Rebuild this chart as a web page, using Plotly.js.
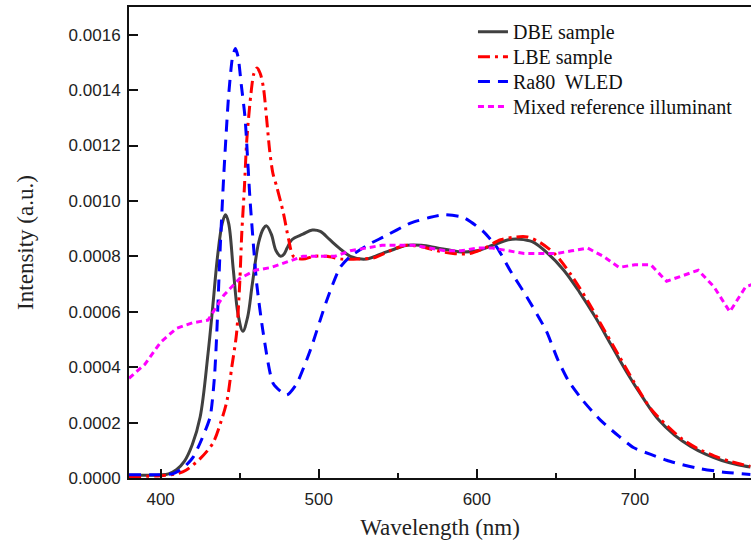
<!DOCTYPE html>
<html>
<head>
<meta charset="utf-8">
<script src="https://cdn.plot.ly/plotly-3.0.1.min.js"></script>
<style>html,body{margin:0;padding:0;background:#fff;}#chart{width:751px;height:546px;}</style>
</head>
<body>
<div id="chart"></div>
<script>
// DBE sample
const dbeX = [380,390,400,405,410,415,420,425,430,433,436,439,441,443,446,449,452,455,458,462,465,467,470,473,476,478,480,483,490,496,501,507,513,520,530,540,550,556,565,575,585,590,600,610,620,627,635,645,655,665,675,685,695,705,715,725,735,745,755,765,773];
const dbeY = [0.000010,0.000010,0.000011,0.000015,0.00003,0.00006,0.00012,0.00022,0.00045,0.00062,0.0008,0.00092,0.00095,0.00092,0.00075,0.00059,0.00053,0.00058,0.0007,0.00085,0.0009,0.00091,0.00088,0.00082,0.0008,0.000808,0.00083,0.00086,0.00088,0.000895,0.00089,0.00086,0.00083,0.0008,0.00079,0.00081,0.00083,0.00084,0.00084,0.00083,0.00082,0.000816,0.00082,0.00084,0.00086,0.000862,0.000853,0.00081,0.00075,0.00067,0.00058,0.00048,0.00038,0.00029,0.00021,0.000155,0.000115,0.000085,0.000063,0.000048,0.00004];
// LBE sample
const lbeX = [380,400,410,416,425,433,438,442,445,448,450,451.3,453,454.5,457,459,461,463,465,467,469,471,473.5,477.7,481,484,490,497,505,515,525,535,545,555,565,575,585,595,605,615,625,632,640,650,660,670,680,690,700,710,720,730,740,750,760,773];
const lbeY = [0.000005,0.000008,0.000015,0.000028,0.00007,0.000125,0.0002,0.00028,0.0004,0.00052,0.0007,0.00088,0.00105,0.00122,0.00138,0.00146,0.00148,0.00146,0.00141,0.0013,0.00118,0.0011,0.00105,0.000955,0.00086,0.0008,0.00079,0.0008,0.0008,0.00079,0.00079,0.000795,0.00082,0.00084,0.000835,0.00082,0.00081,0.00081,0.00083,0.00086,0.00087,0.00087,0.00085,0.000805,0.00073,0.00064,0.00054,0.00044,0.00034,0.00025,0.00019,0.00014,0.000105,0.00008,0.00006,0.000042];
// Ra80 WLED
const wledX = [380,400,408,415,420.7,426,431.3,434,435.5,437.6,440,443,445.5,447.3,449,451,453.4,456.6,460.8,465,471.3,479.8,486,494.6,505,513.5,520,532.5,541,558,570,579,591.6,604,613,621,632,644,651,658,667,678,690,699,710,720,730,741,755,773];
const wledY = [0.000012,0.000012,0.000016,0.00004,0.000076,0.00014,0.00022,0.00036,0.00052,0.00082,0.0011,0.00138,0.00152,0.00155,0.00152,0.00142,0.0013,0.001,0.0007,0.00052,0.00034,0.0003,0.00034,0.00046,0.00064,0.00076,0.0008,0.000846,0.00087,0.00092,0.00094,0.00095,0.00094,0.00089,0.00083,0.00075,0.00065,0.00053,0.00043,0.00035,0.00028,0.00021,0.00015,0.00011,0.000085,0.000064,0.000048,0.000034,0.000022,0.000013];
// Mixed reference illuminant
const mixX = [380,390,400,410,420,430,440,450,460,470,480,490,500,510,520,530,540,550,560,570,580,590,600,610,620,630,640,650,660,670,680,690,700,710,720,730,740,750,760,770,780];
const mixY = [0.00036,0.00041,0.00049,0.00054,0.00056,0.00057,0.00066,0.00072,0.00075,0.00076,0.00078,0.00080,0.00080,0.00080,0.00082,0.00083,0.00084,0.00084,0.00084,0.00083,0.00082,0.00082,0.00083,0.00083,0.00082,0.00081,0.00081,0.00081,0.00082,0.00083,0.00080,0.00076,0.00077,0.00077,0.00071,0.00073,0.00075,0.00069,0.00060,0.00069,0.00071];

const names = ['DBE sample','LBE sample','Ra80  WLED','Mixed reference illuminant'];
const yTickVals = [0,0.0002,0.0004,0.0006,0.0008,0.0010,0.0012,0.0014,0.0016];
const xTickVals = [400,500,600,700];

const serif = 'Liberation Serif, Times New Roman, serif';
const sans = 'Liberation Sans, Arial, sans-serif';

const traces = [
  {x: dbeX, y: dbeY, name: names[0], mode: 'lines', legend: 'legend',
   line: {color: '#404040', width: 3, shape: 'spline', smoothing: 1}},
  {x: lbeX, y: lbeY, name: names[1], mode: 'lines', legend: 'legend2',
   line: {color: '#ff0000', width: 3, dash: '12px,5px,3px,5px', shape: 'spline', smoothing: 0.8}},
  {x: wledX, y: wledY, name: names[2], mode: 'lines', legend: 'legend3',
   line: {color: '#0000ff', width: 3, dash: '12px,8px', shape: 'spline', smoothing: 0.6}},
  {x: mixX, y: mixY, name: names[3], mode: 'lines', legend: 'legend4',
   line: {color: '#ff00ff', width: 3, dash: '6px,4px'}}
];

function leg(y) {
  return {x: 0.553, y: y, xanchor: 'left', yanchor: 'top',
    bgcolor: 'rgba(0,0,0,0)', borderwidth: 0,
    font: {family: serif, size: 20, color: '#111'}};
}

const layout = {
  width: 751, height: 546,
  margin: {l: 129, r: 0, t: 7, b: 68, pad: 0},
  paper_bgcolor: '#fff', plot_bgcolor: '#fff',
  showlegend: true,
  legend: leg(0.989),
  legend2: leg(0.936),
  legend3: leg(0.883),
  legend4: leg(0.830),
  xaxis: {
    range: [380, 773.4], tickvals: xTickVals, ticktext: xTickVals.map(String),
    ticks: 'inside', ticklen: 9, tickwidth: 2, tickcolor: '#111',
    minor: {dtick: 50, tick0: 0, ticks: 'inside', ticklen: 5, tickwidth: 2, tickcolor: '#111', showgrid: false},
    showline: true, linewidth: 2, linecolor: '#111', mirror: true,
    showgrid: false, zeroline: false,
    tickfont: {family: sans, size: 17, color: '#222'},
    ticklabelstandoff: 5,
    title: {text: 'Wavelength (nm)', standoff: 10,
      font: {family: serif, size: 23, color: '#222'}}
  },
  yaxis: {
    range: [0, 0.0017], tickvals: yTickVals, ticktext: yTickVals.map(v => v.toFixed(4)),
    ticks: 'inside', ticklen: 9, tickwidth: 2, tickcolor: '#111',
    showline: true, linewidth: 2, linecolor: '#111', mirror: false,
    showgrid: false, zeroline: false,
    tickfont: {family: sans, size: 17, color: '#222'},
    ticklabelstandoff: 3,
    title: {text: 'Intensity (a.u.)', standoff: 29,
      font: {family: serif, size: 23, color: '#222'}}
  }
};

Plotly.newPlot('chart', traces, layout, {staticPlot: true, displayModeBar: false});
</script>
</body>
</html>
